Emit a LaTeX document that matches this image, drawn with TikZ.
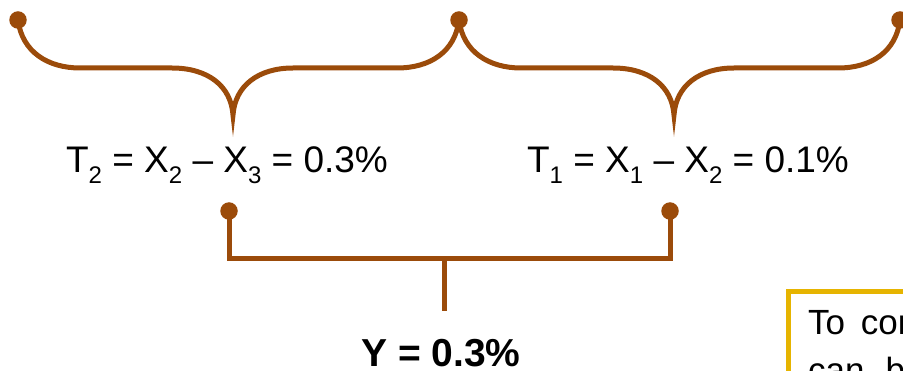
\documentclass[tikz,border=0pt]{standalone}
\usepackage{fontspec}
\setmainfont{Liberation Sans}
\usetikzlibrary{positioning}
\definecolor{rust}{RGB}{155,75,10}
\definecolor{gold}{RGB}{230,180,0}
\newcommand{\lowsub}[1]{\raisebox{-0.28em}{\fontsize{24}{24}\selectfont #1}}

\begin{document}
\begin{tikzpicture}[x=1pt, y=-1pt,
  dot/.style={circle, fill=rust, inner sep=0pt, minimum size=17.5pt},
  lbl/.style={font=\fontsize{37}{44}\selectfont, anchor=base, inner sep=0pt},
  bracepath/.style={draw=rust, line width=5pt, line cap=round},
  barpath/.style={draw=rust, line width=5pt}]
\useasboundingbox (0,0) rectangle (903,371);
% top braces
\node[dot] (d0) at (18,20) {};
\node[dot] (d1) at (459,20) {};
\node[dot] (d2) at (900,20) {};
\foreach \a/\b/\sh/\tp in {d0/d1/0/tipL, d1/d2/441/tipR} {
  \begin{scope}[shift={(\sh,0)}]
  \coordinate (\tp) at (233,115);
  \draw[bracepath] (\a.center) .. controls (22,52) and (48,68) .. (80,68) -- (172,68)
    .. controls (208,68) and (231,86) .. (\tp)
    .. controls (235,86) and (258,68) .. (293,68) -- (397,68)
    .. controls (430,68) and (455,52) .. (\b.center);
  \end{scope}
}
\node[lbl] (t2) at (227,173) {T\lowsub{2} = X\lowsub{2} – X\lowsub{3} = 0.3\%};
\node[lbl] (t1) at (688,173) {T\lowsub{1} = X\lowsub{1} – X\lowsub{2} = 0.1\%};
% bracket joining the two spreads
\node[dot] (b2) at (229,211) {};
\node[dot] (b1) at (670,211) {};
\coordinate (join) at (444,259);
\coordinate (stem) at (444,311);
\draw[barpath] (b2.center) |- (join) -| (b1.center);
\draw[barpath] (join) -- (stem);
\node[lbl, text depth=0pt, font=\fontsize{39}{46}\selectfont\bfseries] (y) at (441,367) {Y = 0.3\%};
% note box, cut by the page edge
\node[draw=gold, line width=5pt, fill=white, anchor=north west, minimum width=200pt, minimum height=150pt] (note) at (786,289.5) {};
\node[lbl, anchor=base west, font=\fontsize{35}{42}\selectfont] (line1) at (808,335) {To\hspace{0.45em}con};
\node[lbl, anchor=base west, font=\fontsize{35}{42}\selectfont] (line2) at (808,383) {can\hspace{0.6em}b};
\end{tikzpicture}
\end{document}
